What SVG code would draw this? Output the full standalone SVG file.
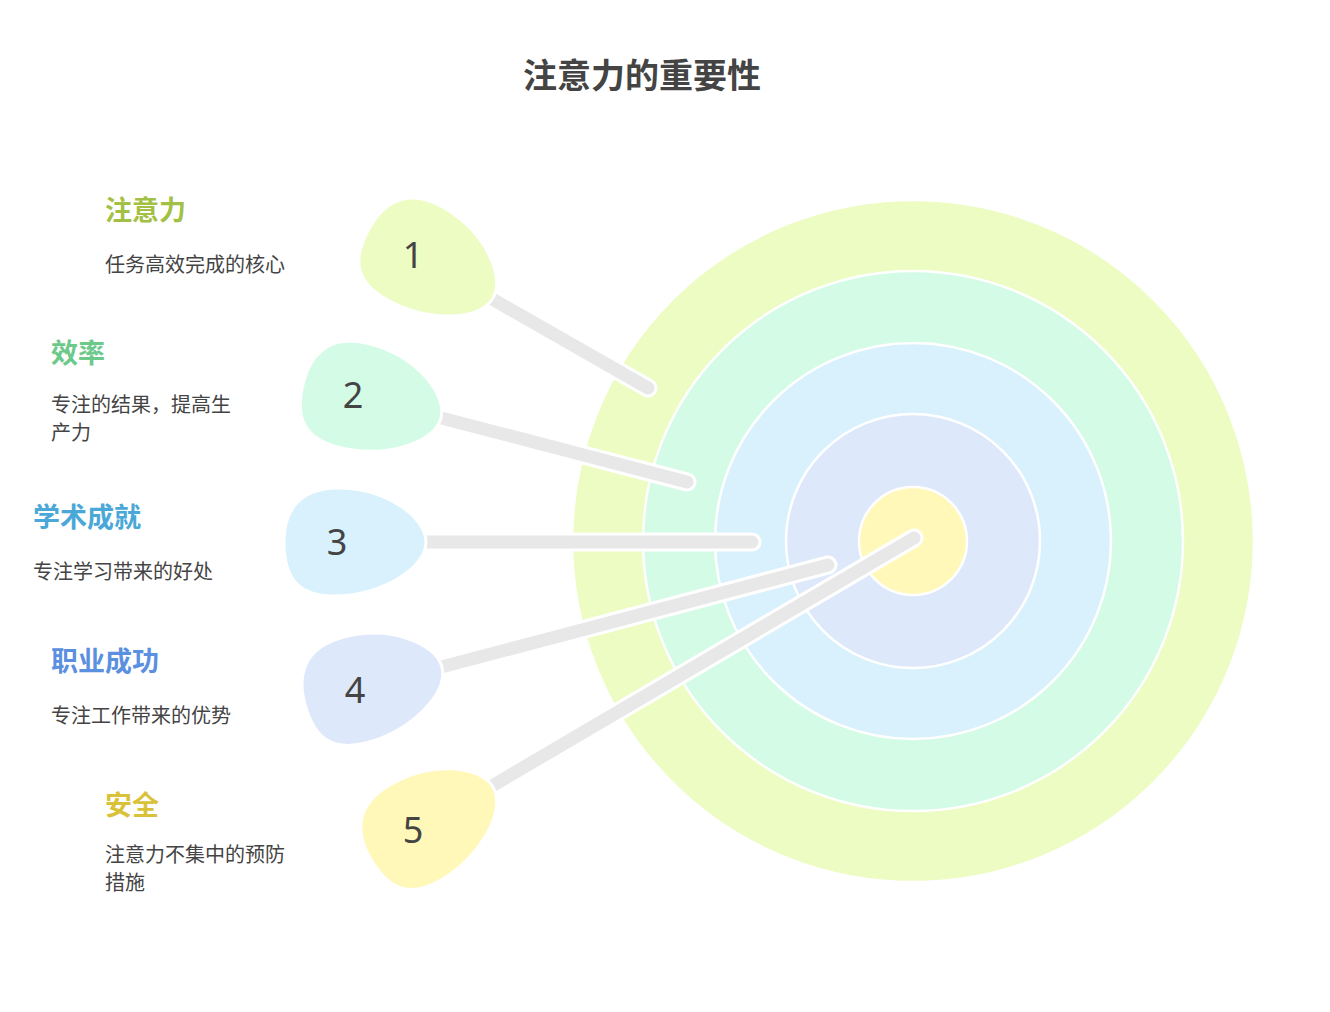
<svg xmlns="http://www.w3.org/2000/svg" width="1330" height="1012" viewBox="0 0 1330 1012">
<style>
.ring{stroke:#fff;stroke-width:2.5}
.so{stroke:#fff;stroke-width:19;stroke-linecap:round;fill:none}
.si{stroke:#e8e8e8;stroke-width:13;stroke-linecap:round;fill:none}
.num{font-family:"Noto Sans",sans-serif;font-size:36px;fill:#444;text-anchor:middle}
.h{font-family:"Noto Sans CJK SC",sans-serif;font-size:27px;font-weight:bold}
.d{font-family:"Noto Sans CJK SC",sans-serif;font-size:20px;fill:#444}
</style>
<defs><path id="blob" d="M0,0 C0,-25 -40,-54 -88,-54 C-128,-54 -142,-30 -142,0 C-142,36 -128,54 -92,54 C-48,54 0,28 0,0 Z"/></defs>
<rect width="1330" height="1012" fill="#fff"/>
<text x="642" y="88" text-anchor="middle" style="font-family:'Noto Sans CJK SC',sans-serif;font-size:34px;font-weight:bold;fill:#444">注意力的重要性</text>
<g id="target">
<circle class="ring" cx="913" cy="541" r="341" fill="#ecfcc2"/>
<circle class="ring" cx="913" cy="541" r="270" fill="#d3fbe6"/>
<circle class="ring" cx="913" cy="541" r="198" fill="#d9f1fd"/>
<circle class="ring" cx="913" cy="541" r="127" fill="#dee8fb"/>
<circle class="ring" cx="913" cy="541" r="54" fill="#fff8b8"/>
</g>
<g id="connectors">
<line class="so" x1="480" y1="292" x2="648" y2="388"/><line class="si" x1="480" y1="292" x2="648" y2="388"/>
<line class="so" x1="430" y1="415" x2="687" y2="482"/><line class="si" x1="430" y1="415" x2="687" y2="482"/>
<line class="so" x1="420" y1="542" x2="752" y2="542"/><line class="si" x1="420" y1="542" x2="752" y2="542"/>
<line class="so" x1="430" y1="670" x2="828" y2="565"/><line class="si" x1="430" y1="670" x2="828" y2="565"/>
<line class="so" x1="480" y1="793" x2="914" y2="538"/><line class="si" x1="480" y1="793" x2="914" y2="538"/>
</g>
<g id="dart1"><use href="#blob" transform="translate(493,298) rotate(29.7)" fill="#ecfcc2" stroke="#fff" stroke-width="3"/><text class="num" x="413" y="268">1</text>
<text class="h" x="105" y="220" fill="#a2c043">注意力</text><text class="d" x="105" y="272">任务高效完成的核心</text></g>
<g id="dart2"><use href="#blob" transform="translate(441,418) rotate(14.5)" fill="#d3fbe6" stroke="#fff" stroke-width="3"/><text class="num" x="353" y="408">2</text>
<text class="h" x="51" y="363" fill="#6cc98a">效率</text><text class="d" x="51" y="412">专注的结果，提高生</text><text class="d" x="51" y="440">产力</text></g>
<g id="dart3"><use href="#blob" transform="translate(426,542)" fill="#d9f1fd" stroke="#fff" stroke-width="3"/><text class="num" x="337" y="555">3</text>
<text class="h" x="33" y="527" fill="#4aa8d8">学术成就</text><text class="d" x="33" y="579">专注学习带来的好处</text></g>
<g id="dart4"><use href="#blob" transform="translate(442,667) rotate(-14.8)" fill="#dee8fb" stroke="#fff" stroke-width="3"/><text class="num" x="355" y="703">4</text>
<text class="h" x="51" y="671" fill="#5b8fe0">职业成功</text><text class="d" x="51" y="723">专注工作带来的优势</text></g>
<g id="dart5"><use href="#blob" transform="translate(493,787) rotate(-30.4)" fill="#fff8b8" stroke="#fff" stroke-width="3"/><text class="num" x="413" y="843">5</text>
<text class="h" x="105" y="815" fill="#d9c23a">安全</text><text class="d" x="105" y="862">注意力不集中的预防</text><text class="d" x="105" y="890">措施</text></g>
</svg>
